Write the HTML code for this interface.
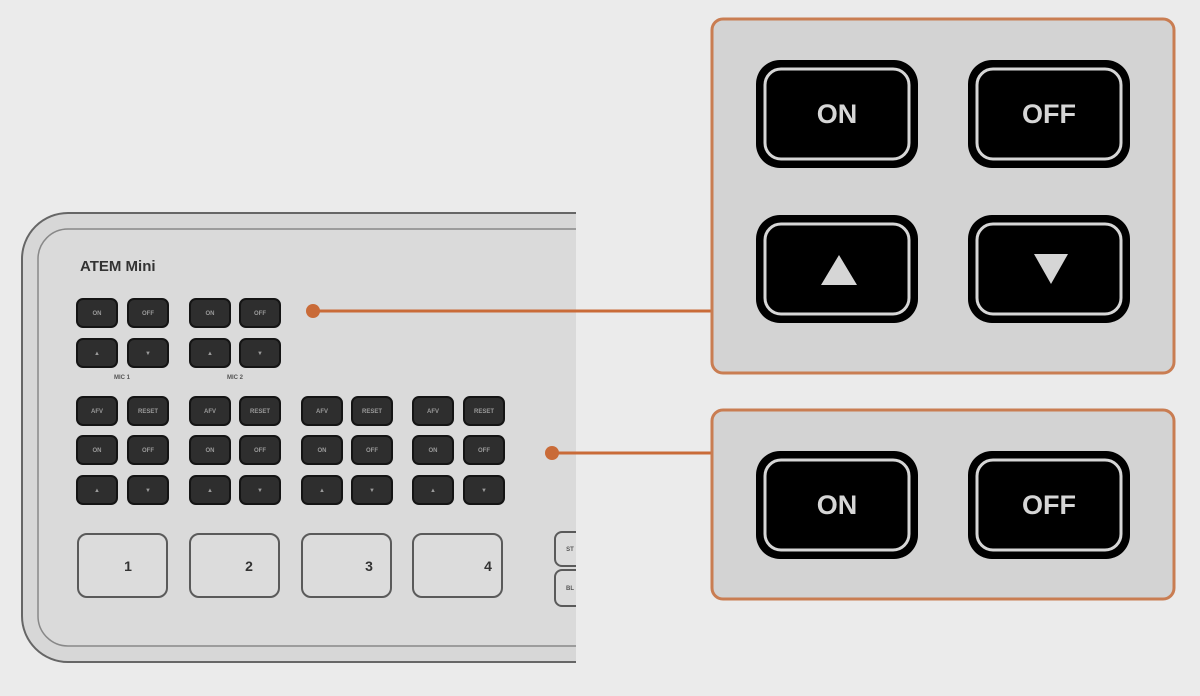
<!DOCTYPE html>
<html><head><meta charset="utf-8"><style>
html,body{margin:0;padding:0;background:#ebebeb;width:1200px;height:696px;overflow:hidden}
svg{display:block}
.sb{fill:#2e2e2e;stroke:#141414;stroke-width:2}
.st{font-family:"Liberation Sans",sans-serif;font-size:6px;font-weight:bold;fill:#9a9a9a;text-anchor:middle}
.bb{fill:#dcdcdc;stroke:#5a5a5a;stroke-width:2}
.bt{font-family:"Liberation Sans",sans-serif;font-size:14px;font-weight:bold;fill:#333;text-anchor:middle}
.big{fill:#000}
.ring{fill:none;stroke:#d6d6d6;stroke-width:3}
.lt{font-family:"Liberation Sans",sans-serif;font-size:27px;font-weight:bold;fill:#d6d6d6;text-anchor:middle}
</style></head><body>
<svg width="1200" height="696" viewBox="0 0 1200 696" xmlns="http://www.w3.org/2000/svg">
<defs><clipPath id="cp"><rect x="0" y="0" width="576" height="696"/></clipPath></defs>
<g clip-path="url(#cp)">
<rect x="22" y="213" width="700" height="449" rx="46" fill="#d7d7d7" stroke="#666" stroke-width="2"/>
<rect x="38" y="229" width="700" height="417" rx="30" fill="#dadada" stroke="#888" stroke-width="1.5"/>
<text x="80" y="271" font-family="Liberation Sans,sans-serif" font-size="15" font-weight="bold" fill="#333">ATEM Mini</text>
<!-- mic rows -->
<rect class="sb" x="77" y="299" width="40" height="28" rx="6"/><text class="st" x="97" y="315">ON</text>
<rect class="sb" x="128" y="299" width="40" height="28" rx="6"/><text class="st" x="148" y="315">OFF</text>
<rect class="sb" x="190" y="299" width="40" height="28" rx="6"/><text class="st" x="210" y="315">ON</text>
<rect class="sb" x="240" y="299" width="40" height="28" rx="6"/><text class="st" x="260" y="315">OFF</text>
<rect class="sb" x="77" y="339" width="40" height="28" rx="6"/><text class="st" x="97" y="355">▲</text>
<rect class="sb" x="128" y="339" width="40" height="28" rx="6"/><text class="st" x="148" y="355">▼</text>
<rect class="sb" x="190" y="339" width="40" height="28" rx="6"/><text class="st" x="210" y="355">▲</text>
<rect class="sb" x="240" y="339" width="40" height="28" rx="6"/><text class="st" x="260" y="355">▼</text>
<text class="st" x="122" y="379" fill="#555" style="fill:#555">MIC 1</text>
<text class="st" x="235" y="379" style="fill:#555">MIC 2</text>
<!-- channel rows -->
<g>
<rect class="sb" x="77" y="397" width="40" height="28" rx="6"/><text class="st" x="97" y="413">AFV</text>
<rect class="sb" x="128" y="397" width="40" height="28" rx="6"/><text class="st" x="148" y="413">RESET</text>
<rect class="sb" x="190" y="397" width="40" height="28" rx="6"/><text class="st" x="210" y="413">AFV</text>
<rect class="sb" x="240" y="397" width="40" height="28" rx="6"/><text class="st" x="260" y="413">RESET</text>
<rect class="sb" x="302" y="397" width="40" height="28" rx="6"/><text class="st" x="322" y="413">AFV</text>
<rect class="sb" x="352" y="397" width="40" height="28" rx="6"/><text class="st" x="372" y="413">RESET</text>
<rect class="sb" x="413" y="397" width="40" height="28" rx="6"/><text class="st" x="433" y="413">AFV</text>
<rect class="sb" x="464" y="397" width="40" height="28" rx="6"/><text class="st" x="484" y="413">RESET</text>

<rect class="sb" x="77" y="436" width="40" height="28" rx="6"/><text class="st" x="97" y="452">ON</text>
<rect class="sb" x="128" y="436" width="40" height="28" rx="6"/><text class="st" x="148" y="452">OFF</text>
<rect class="sb" x="190" y="436" width="40" height="28" rx="6"/><text class="st" x="210" y="452">ON</text>
<rect class="sb" x="240" y="436" width="40" height="28" rx="6"/><text class="st" x="260" y="452">OFF</text>
<rect class="sb" x="302" y="436" width="40" height="28" rx="6"/><text class="st" x="322" y="452">ON</text>
<rect class="sb" x="352" y="436" width="40" height="28" rx="6"/><text class="st" x="372" y="452">OFF</text>
<rect class="sb" x="413" y="436" width="40" height="28" rx="6"/><text class="st" x="433" y="452">ON</text>
<rect class="sb" x="464" y="436" width="40" height="28" rx="6"/><text class="st" x="484" y="452">OFF</text>

<rect class="sb" x="77" y="476" width="40" height="28" rx="6"/><text class="st" x="97" y="492">▲</text>
<rect class="sb" x="128" y="476" width="40" height="28" rx="6"/><text class="st" x="148" y="492">▼</text>
<rect class="sb" x="190" y="476" width="40" height="28" rx="6"/><text class="st" x="210" y="492">▲</text>
<rect class="sb" x="240" y="476" width="40" height="28" rx="6"/><text class="st" x="260" y="492">▼</text>
<rect class="sb" x="302" y="476" width="40" height="28" rx="6"/><text class="st" x="322" y="492">▲</text>
<rect class="sb" x="352" y="476" width="40" height="28" rx="6"/><text class="st" x="372" y="492">▼</text>
<rect class="sb" x="413" y="476" width="40" height="28" rx="6"/><text class="st" x="433" y="492">▲</text>
<rect class="sb" x="464" y="476" width="40" height="28" rx="6"/><text class="st" x="484" y="492">▼</text>
</g>
<!-- big buttons -->
<rect class="bb" x="78" y="534" width="89" height="63" rx="9"/><text class="bt" x="128" y="571">1</text>
<rect class="bb" x="190" y="534" width="89" height="63" rx="9"/><text class="bt" x="249" y="571">2</text>
<rect class="bb" x="302" y="534" width="89" height="63" rx="9"/><text class="bt" x="369" y="571">3</text>
<rect class="bb" x="413" y="534" width="89" height="63" rx="9"/><text class="bt" x="488" y="571">4</text>
<rect class="bb" x="555" y="532" width="40" height="34" rx="7"/><text class="st" x="570" y="551" style="fill:#555">ST</text>
<rect class="bb" x="555" y="570" width="40" height="36" rx="7"/><text class="st" x="570" y="590" style="fill:#555">BL</text>
</g>
<!-- connectors -->
<line x1="313" y1="311" x2="712" y2="311" stroke="#c96b38" stroke-width="3"/>
<circle cx="313" cy="311" r="7" fill="#c96b38"/>
<line x1="552" y1="453" x2="712" y2="453" stroke="#c96b38" stroke-width="3"/>
<circle cx="552" cy="453" r="7" fill="#c96b38"/>
<!-- callout 1 -->
<rect x="712" y="19" width="462" height="354" rx="11" fill="#d3d3d3" stroke="#c97d52" stroke-width="3"/>
<rect class="big" x="756" y="60" width="162" height="108" rx="24"/>
<rect class="ring" x="765" y="69" width="144" height="90" rx="16"/>
<text class="lt" x="837" y="123">ON</text>
<rect class="big" x="968" y="60" width="162" height="108" rx="24"/>
<rect class="ring" x="977" y="69" width="144" height="90" rx="16"/>
<text class="lt" x="1049" y="123">OFF</text>
<rect class="big" x="756" y="215" width="162" height="108" rx="24"/>
<rect class="ring" x="765" y="224" width="144" height="90" rx="16"/>
<polygon points="839,255 857,285 821,285" fill="#d6d6d6"/>
<rect class="big" x="968" y="215" width="162" height="108" rx="24"/>
<rect class="ring" x="977" y="224" width="144" height="90" rx="16"/>
<polygon points="1034,254 1068,254 1051,284" fill="#d6d6d6"/>
<!-- callout 2 -->
<rect x="712" y="410" width="462" height="189" rx="11" fill="#d3d3d3" stroke="#c97d52" stroke-width="3"/>
<rect class="big" x="756" y="451" width="162" height="108" rx="24"/>
<rect class="ring" x="765" y="460" width="144" height="90" rx="16"/>
<text class="lt" x="837" y="514">ON</text>
<rect class="big" x="968" y="451" width="162" height="108" rx="24"/>
<rect class="ring" x="977" y="460" width="144" height="90" rx="16"/>
<text class="lt" x="1049" y="514">OFF</text>
</svg>
</body></html>
